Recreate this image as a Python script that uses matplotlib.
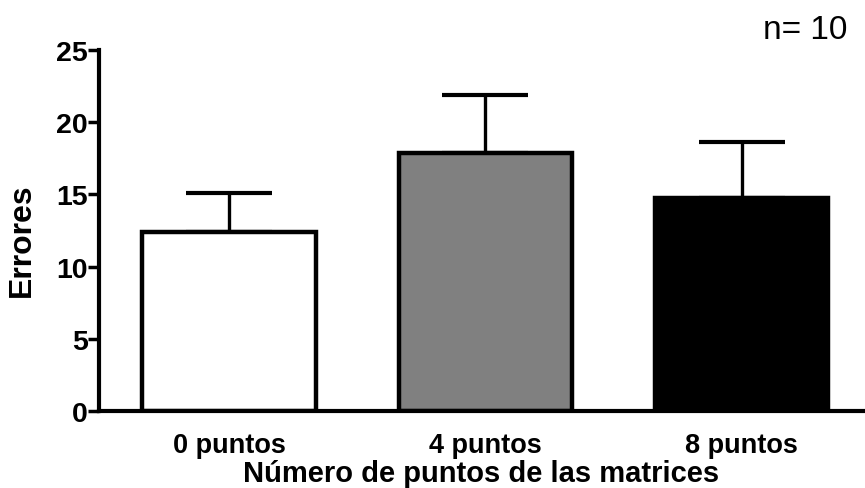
import matplotlib
matplotlib.use("Agg")
import matplotlib.pyplot as plt

categories = ["0 puntos", "4 puntos", "8 puntos"]
means = [12.4, 17.9, 14.75]
sems = [2.7, 3.95, 3.85]
colors = ["white", "#808080", "black"]
yticks = [0, 5, 10, 15, 20, 25]

plt.rcParams['font.family'] = ['Liberation Sans', 'DejaVu Sans']

fig = plt.figure(figsize=(8.65, 4.89), dpi=100)
ax = fig.add_axes([99/865, 77/489, (864-99)/865, (412-51)/489])

x = list(range(len(categories)))
ax.bar(x, means, width=0.675, color=colors, edgecolor="black", linewidth=3.2, zorder=2)
ax.errorbar(x, means, yerr=[[0]*len(sems), sems], fmt="none", ecolor="black",
            elinewidth=2.4, capsize=31, capthick=3, zorder=1)

ax.set_xlim(-0.507, 2.476)
ax.set_ylim(0, 25)
ax.set_yticks(yticks)
ax.set_xticks(x)
ax.set_xticklabels(categories, fontsize=19.5, fontweight="bold")
ax.set_yticklabels([str(t) for t in yticks], fontsize=20.5, fontweight="bold")

for s in ["top", "right"]:
    ax.spines[s].set_visible(False)
for s in ["left", "bottom"]:
    ax.spines[s].set_linewidth(3)
ax.tick_params(axis="y", length=8, width=2.5, pad=0)
ax.tick_params(axis="x", length=0, pad=15)

ax.set_xlabel("Número de puntos de las matrices", fontsize=21, fontweight="bold", labelpad=1)

fig.text(22/865, 1 - 240/489, "Errores", fontsize=23, fontweight="bold",
         rotation=90, ha="center", va="center")

fig.text(847/865, 1 - 39/489, "n= 10", fontsize=24, ha="right", va="baseline")

fig.savefig("out.png", dpi=100)
